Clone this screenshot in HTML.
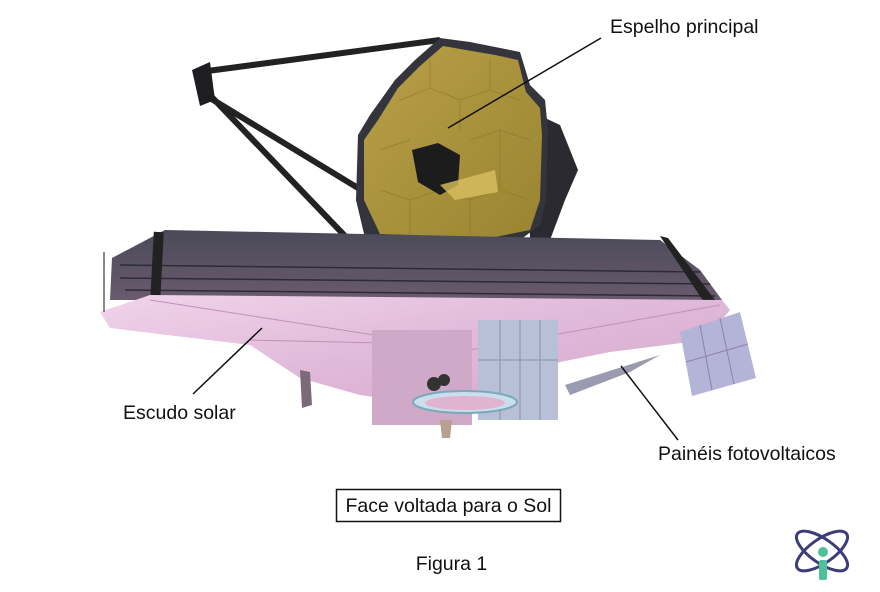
<!DOCTYPE html>
<html><head><meta charset="utf-8"><style>
html,body{margin:0;padding:0;background:#fff;width:880px;height:592px;overflow:hidden}
svg{display:block}
text{font-family:"Liberation Sans",Arial,sans-serif;fill:#111}
</style></head><body>
<svg width="880" height="592" viewBox="0 0 880 592">
<defs>
<linearGradient id="pk" x1="0" y1="0" x2="1" y2="1">
<stop offset="0" stop-color="#f0d4ea"/><stop offset="0.5" stop-color="#e0b8d8"/><stop offset="1" stop-color="#d4a8cc"/></linearGradient>
<linearGradient id="dk" x1="0" y1="0" x2="0" y2="1">
<stop offset="0" stop-color="#4a4a58"/><stop offset="1" stop-color="#6a5a6e"/></linearGradient>
<linearGradient id="gd" x1="0" y1="0" x2="1" y2="1">
<stop offset="0" stop-color="#b8a048"/><stop offset="1" stop-color="#9a8430"/></linearGradient>
</defs>
<polygon points="528,110 560,125 578,170 565,200 550,240 530,240" fill="#2a2a30"/>
<polyline points="200,72 440,40" stroke="#222" stroke-width="6" fill="none"/>
<line x1="205" y1="90" x2="345" y2="236" stroke="#222" stroke-width="6"/>
<line x1="210" y1="98" x2="450" y2="244" stroke="#222" stroke-width="6"/>
<polygon points="192,70 210,62 215,100 200,106" fill="#1e1e22"/>
<polygon points="440,38 470,42 520,52 530,85 545,100 548,130 546,200 540,225 520,240 450,245 365,238 356,200 358,135 370,115 395,80 415,60" fill="#34343c"/>
<polygon points="443,46 495,55 518,60 526,92 540,108 542,135 540,200 530,230 490,238 380,234 364,200 364,140 378,120 398,88 420,66" fill="url(#gd)"/>
<g stroke="#8a7628" stroke-width="0.8" fill="none" opacity="0.7">
<path d="M400,100 L430,88 L460,100 L490,90 L520,100 M380,150 L410,140 M470,140 L500,130 L530,140 M380,190 L410,200 L440,190 L470,200 L500,190 L530,200 M430,88 L430,60 M460,100 L460,130 M490,90 L490,60 M410,200 L410,235 M470,200 L470,238 M500,130 L500,190"/>
</g>
<polygon points="412,150 438,143 460,155 458,185 440,195 418,182" fill="#1c1c1c"/>
<polygon points="440,185 495,170 498,192 455,200" fill="#d8c060" opacity="0.8"/>
<polygon points="112,258 165,230 660,240 700,270 722,300 160,300 110,300" fill="url(#dk)"/>
<g stroke="#2c2c34" stroke-width="1.5"><line x1="120" y1="265" x2="700" y2="272"/><line x1="120" y1="278" x2="710" y2="284"/><line x1="125" y1="290" x2="715" y2="296"/></g>
<rect x="152" y="232" width="10" height="70" fill="#222" transform="rotate(3 157 266)"/>
<polygon points="660,236 668,238 715,300 706,305" fill="#222"/>
<polygon points="100,312 150,295 722,300 730,310 705,340 610,352 560,362 480,412 360,395 300,378 250,345 110,328" fill="url(#pk)"/>
<g stroke="#c090b8" stroke-width="1" fill="none"><line x1="150" y1="300" x2="470" y2="350"/><line x1="720" y1="305" x2="470" y2="350"/><line x1="250" y1="340" x2="470" y2="345"/></g>
<line x1="104" y1="252" x2="104" y2="312" stroke="#888" stroke-width="2"/>
<polygon points="300,370 310,372 312,405 302,408" fill="#7a6a7a"/>
<rect x="372" y="330" width="100" height="95" fill="#d0a8c8"/>
<rect x="478" y="320" width="80" height="100" fill="#b8c0d8"/>
<g stroke="#8890a8" stroke-width="1"><line x1="500" y1="320" x2="500" y2="420"/><line x1="520" y1="320" x2="520" y2="420"/><line x1="540" y1="320" x2="540" y2="420"/><line x1="478" y1="360" x2="558" y2="360"/></g>
<circle cx="434" cy="384" r="7" fill="#333"/><circle cx="444" cy="380" r="6" fill="#333"/>
<ellipse cx="465" cy="402" rx="52" ry="11" fill="#cde" stroke="#7ab" stroke-width="2"/>
<ellipse cx="465" cy="403" rx="40" ry="7" fill="#e0b4d0"/>
<polygon points="440,420 452,420 450,438 442,438" fill="#b8a090"/>
<polygon points="565,385 660,355 630,372 570,395" fill="#9a9ab0"/>
<polygon points="680,332 740,312 756,378 692,396" fill="#b4b4d8"/>
<g stroke="#9080a8" stroke-width="1"><line x1="700" y1="325" x2="712" y2="390"/><line x1="720" y1="318" x2="734" y2="384"/><line x1="686" y1="362" x2="748" y2="344"/></g>
<text x="610" y="33" font-size="19.5">Espelho principal</text>
<line x1="601" y1="38" x2="448" y2="128" stroke="#111" stroke-width="1.5"/>
<text x="123" y="419" font-size="19.5">Escudo solar</text>
<line x1="193" y1="394" x2="262" y2="328" stroke="#111" stroke-width="1.5"/>
<text x="658" y="460" font-size="19.5">Painéis fotovoltaicos</text>
<line x1="678" y1="440" x2="621" y2="366" stroke="#111" stroke-width="1.5"/>
<rect x="336.5" y="489.5" width="224" height="32" fill="none" stroke="#111" stroke-width="1.5"/>
<text x="448.5" y="512" font-size="19.5" text-anchor="middle">Face voltada para o Sol</text>
<text x="451.5" y="570" font-size="19.5" text-anchor="middle">Figura 1</text>
<g fill="none" stroke="#3c3c7a" stroke-width="3">
<ellipse cx="822" cy="551" rx="30" ry="12" transform="rotate(35 822 551)"/>
<ellipse cx="822" cy="551" rx="30" ry="12" transform="rotate(-35 822 551)"/>
</g>
<circle cx="823" cy="552" r="5" fill="#4fbf9c"/>
<rect x="819" y="560" width="8" height="20" rx="2" fill="#4fbf9c"/>
</svg>
</body></html>
